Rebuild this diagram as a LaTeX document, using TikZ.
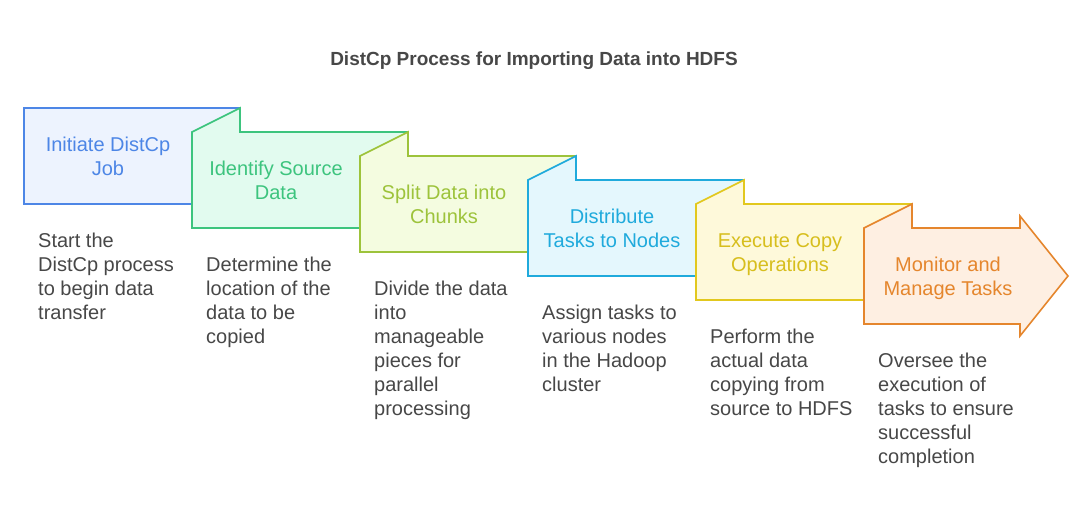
\documentclass[tikz,border=0pt]{standalone}
\usepackage{fontspec}
\setmainfont{Liberation Sans}
\usepackage{tikz}
\definecolor{blueline}{HTML}{4D86E6}
\definecolor{bluefill}{HTML}{EDF3FE}
\definecolor{greenline}{HTML}{3DC47E}
\definecolor{greenfill}{HTML}{E2FBEF}
\definecolor{limeline}{HTML}{9DC33B}
\definecolor{limefill}{HTML}{F4FCE0}
\definecolor{cyanline}{HTML}{1FAADC}
\definecolor{cyanfill}{HTML}{E4F7FD}
\definecolor{yellowline}{HTML}{E2C81E}
\definecolor{yellowfill}{HTML}{FEF9DA}
\definecolor{orangeline}{HTML}{E5862D}
\definecolor{orangefill}{HTML}{FEEFE2}
\definecolor{textgrey}{HTML}{474747}
% folded box: #1 = left, #2 = top, #3 = colour prefix
\newcommand{\foldbox}[3]
{   \filldraw[draw=#3line, fill=#3fill, line width=1.6pt, line join=miter]
    (#1,#2+24) -- (#1+48,#2) -- (#1+48,#2+24) -- (#1+216,#2+24)
    -- (#1+216,#2+120) -- (#1,#2+120) -- cycle;
}
\newcommand{\arrowbox}[3]
{   \filldraw[draw=#3line, fill=#3fill, line width=1.6pt, line join=miter]
    (#1,#2+24) -- (#1+48,#2) -- (#1+48,#2+24) -- (#1+156,#2+24) -- (#1+156,#2+12)
    -- (#1+204,#2+72) -- (#1+156,#2+132) -- (#1+156,#2+120) -- (#1,#2+120) -- cycle;
}
\tikzset{
  boxtitle/.style={align=center, inner sep=0pt, font=\fontsize{20}{24}\selectfont},
  desc/.style={align=left, inner sep=0pt, anchor=north west, text=textgrey,
    font=\fontsize{20}{24}\selectfont}
}

\begin{document}
\begin{tikzpicture}[x=1pt,y=-1pt]
\useasboundingbox (0,0) rectangle (1092,516);

 \filldraw[draw=blueline, fill=bluefill, line width=1.6pt] (24,108) rectangle (240,204);
 \foldbox{192}{108}{green}
 \foldbox{360}{132}{lime}
 \foldbox{528}{156}{cyan}
 \foldbox{696}{180}{yellow}
 \arrowbox{864}{204}{orange}

 \node[font=\fontsize{19}{22}\selectfont\bfseries, text=textgrey] (title) at (534,61)
   {DistCp Process for Importing Data into HDFS};

 \node[boxtitle, text=blueline] (initiate) at (108,156) {Initiate DistCp\\Job};
 \node[boxtitle, text=greenline] (identify) at (276,180) {Identify Source\\Data};
 \node[boxtitle, text=limeline] (split) at (444,204) {Split Data into\\Chunks};
 \node[boxtitle, text=cyanline] (distribute) at (612,228) {Distribute\\Tasks to Nodes};
 \node[boxtitle, text=yellowline!95!black] (execute) at (780,255) {Execute Copy\\Operations};
 \node[boxtitle, text=orangeline] (monitor) at (948,278) {Monitor and\\Manage Tasks};

 \node[desc] (initiatetxt) at (38,233) {Start the\\DistCp process\\to begin data\\transfer};
 \node[desc] (identifytxt) at (206,257) {Determine the\\location of the\\data to be\\copied};
 \node[desc] (splittxt) at (374,281) {Divide the data\\into\\manageable\\pieces for\\parallel\\processing};
 \node[desc] (distributetxt) at (542,305) {Assign tasks to\\various nodes\\in the Hadoop\\cluster};
 \node[desc] (executetxt) at (710,329) {Perform the\\actual data\\copying from\\source to HDFS};
 \node[desc] (monitortxt) at (878,353) {Oversee the\\execution of\\tasks to ensure\\successful\\completion};

\end{tikzpicture}
\end{document}
